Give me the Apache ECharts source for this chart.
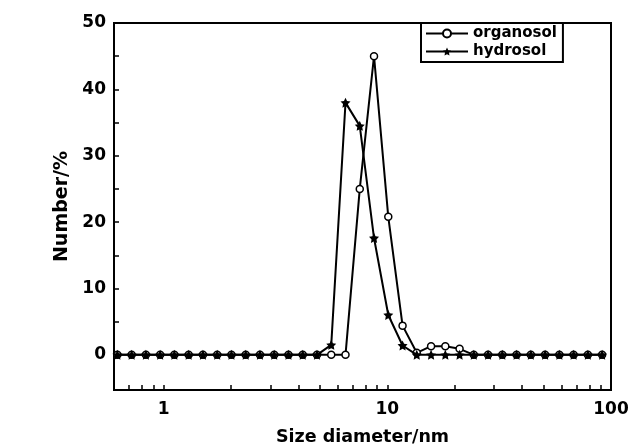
<!DOCTYPE html>
<html>
<head>
<meta charset="utf-8">
<script src="https://cdn.jsdelivr.net/npm/echarts@6/dist/echarts.min.js"></script>
<style>html,body{margin:0;padding:0;background:#fff;}#c{width:630px;height:446px;}</style>
</head>
<body>
<div id="c"></div>
<script>
// Size bins (nm)
var sizes = [0.6213,0.7195,0.8332,0.9649,1.117,1.294,1.499,1.736,2.010,2.328,2.696,3.122,3.615,4.187,4.849,5.615,6.503,7.531,8.721,10.10,11.70,13.54,15.69,18.17,21.04,24.36,28.21,32.67,37.84,43.82,50.75,58.77,68.06,78.82,91.28];
var organosol = [0,0,0,0,0,0,0,0,0,0,0,0,0,0,0,0,0,25,45,20.8,4.4,0.3,1.3,1.3,0.9,0,0,0,0,0,0,0,0,0,0];
var hydrosol  = [0,0,0,0,0,0,0,0,0,0,0,0,0,0,0,1.5,38,34.5,17.6,6.0,1.4,0,0,0,0,0,0,0,0,0,0,0,0,0,0];
var xLabels = [1,10,100];
var xTicks = [0.7,0.8,0.9,1,2,3,4,5,6,7,8,9,10,20,30,40,50,60,70,80,90,100];
var yLabels = [0,10,20,30,40,50];
var yTicks = [0,5,10,15,20,25,30,35,40,45,50];

var FONT = 'DejaVu Sans';
var star = 'path://M0,-10 L2.9,-4 9.5,-3.1 4.7,1.5 5.9,8.1 0,5 -5.9,8.1 -4.7,1.5 -9.5,-3.1 -2.9,-4 Z';

function pairs(xs, ys){ return xs.map(function(x,i){ return [x, ys[i]]; }); }

var chart = echarts.init(document.getElementById('c'), null, {renderer:'canvas'});
chart.setOption({
  animation: false,
  backgroundColor: '#fff',
  grid: { left: 114, right: 19, top: 23, bottom: 56, show: true, borderColor: '#000', borderWidth: 2, backgroundColor: 'transparent', containLabel: false, outerBoundsMode: 'none' },
  legend: {
    orient: 'vertical', left: 421, top: 23,
    borderColor: '#000', borderWidth: 2, borderRadius: 0,
    padding: [3, 6, 3, 4], itemGap: 3, itemWidth: 42, itemHeight: 10,
    textStyle: { fontFamily: FONT, fontWeight: 'bold', fontSize: 15, color: '#000' },
    data: ['organosol', 'hydrosol']
  },
  xAxis: {
    type: 'log', logBase: 10, min: 0.6, max: 100,
    name: 'Size diameter/nm', nameLocation: 'middle', nameGap: 38,
    nameTextStyle: { fontFamily: FONT, fontWeight: 'bold', fontSize: 17.5, color: '#000' },
    axisLine: { show: true, onZero: false, lineStyle: { color: '#000', width: 2 } },
    axisTick: { show: true, inside: true, length: 5, lineStyle: { color: '#000', width: 1.5 }, customValues: xTicks },
    axisLabel: { show: true, fontFamily: FONT, fontWeight: 'bold', fontSize: 17, color: '#000', margin: 11, customValues: xLabels },
    splitLine: { show: false }, minorTick: { show: false }
  },
  yAxis: {
    type: 'value', min: -5.3, max: 50,
    name: 'Number/%', nameLocation: 'middle', nameGap: 41, nameRotate: 90,
    nameTextStyle: { fontFamily: FONT, fontWeight: 'bold', fontSize: 19, color: '#000' },
    axisLine: { show: true, onZero: false, lineStyle: { color: '#000', width: 2 } },
    axisTick: { show: true, inside: true, length: 5, lineStyle: { color: '#000', width: 1.5 }, customValues: yTicks },
    axisLabel: { show: true, fontFamily: FONT, fontWeight: 'bold', fontSize: 17, color: '#000', margin: 8, customValues: yLabels },
    splitLine: { show: false }
  },
  series: [
    {
      name: 'organosol', type: 'line', data: pairs(sizes, organosol),
      symbol: 'circle', symbolSize: 7, showAllSymbol: true,
      lineStyle: { color: '#000', width: 2 },
      itemStyle: { color: '#fff', borderColor: '#000', borderWidth: 1.5 },
      z: 2
    },
    {
      name: 'hydrosol', type: 'line', data: pairs(sizes, hydrosol),
      symbol: star, symbolSize: 10, showAllSymbol: true,
      lineStyle: { color: '#000', width: 2 },
      itemStyle: { color: '#000', borderColor: '#000', borderWidth: 0 },
      z: 3
    }
  ]
});
</script>
</body>
</html>
